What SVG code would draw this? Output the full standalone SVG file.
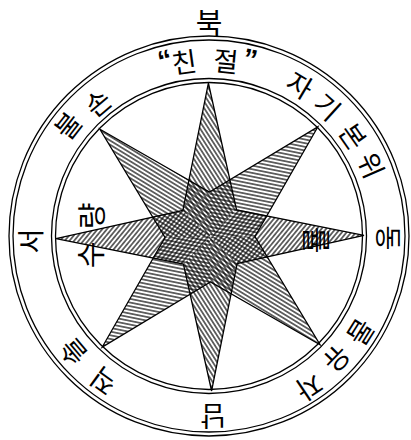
<svg xmlns="http://www.w3.org/2000/svg" width="411" height="440" viewBox="0 0 411 440">
<style>
.ring{fill:none;stroke:#000;stroke-width:1.3}
.edge{fill:none;stroke:#000;stroke-width:1.3;stroke-linejoin:miter}
.t{font-family:"Noto Sans CJK KR","Noto Sans",sans-serif;font-size:27px;fill:#000;text-anchor:middle;dominant-baseline:central}
.big{font-size:29px}
.q{font-family:"Liberation Sans",sans-serif;font-weight:bold;font-size:28px}
</style>
<defs>
<pattern id="hNS" patternUnits="userSpaceOnUse" width="8" height="3.6" patternTransform="rotate(58)"><line x1="0" y1="1.8" x2="8" y2="1.8" stroke="#000" stroke-width="1.15"/></pattern>
<pattern id="hEW" patternUnits="userSpaceOnUse" width="8" height="3.6" patternTransform="rotate(-50)"><line x1="0" y1="1.8" x2="8" y2="1.8" stroke="#000" stroke-width="1.15"/></pattern>
<pattern id="hNW" patternUnits="userSpaceOnUse" width="8" height="3.6" patternTransform="rotate(32)"><line x1="0" y1="1.8" x2="8" y2="1.8" stroke="#000" stroke-width="1.15"/></pattern>
<pattern id="hNE" patternUnits="userSpaceOnUse" width="8" height="3.6" patternTransform="rotate(12)"><line x1="0" y1="1.8" x2="8" y2="1.8" stroke="#000" stroke-width="1.15"/></pattern>
</defs>
<rect width="411" height="440" fill="#fff"/>
<g id="rings">
<circle class="ring" cx="209" cy="236" r="200"/>
<circle class="ring" cx="209" cy="236" r="196"/>
<circle class="ring" cx="209" cy="236" r="157.5"/>
<circle class="ring" cx="209" cy="236" r="153.5"/>
</g>
<g id="star" transform="rotate(-0.6 210 237)">
<path d="M210,83 L236.87,210.13 L210,237 L183.13,210.13 Z" fill="url(#hNS)"/>
<path d="M210,391 L183.13,263.87 L210,237 L236.87,263.87 Z" fill="url(#hNS)"/>
<path d="M364,237 L236.87,263.87 L210,237 L236.87,210.13 Z" fill="url(#hEW)"/>
<path d="M56,237 L183.13,210.13 L210,237 L183.13,263.87 Z" fill="url(#hEW)"/>
<path d="M318.9,128.1 L255,237 L210,237 L210,192 Z" fill="url(#hNE)"/>
<path d="M101.1,345.9 L165,237 L210,237 L210,282 Z" fill="url(#hNE)"/>
<path d="M318.9,345.9 L210,282 L210,237 L255,237 Z" fill="url(#hNW)"/>
<path d="M101.1,128.1 L210,192 L210,237 L165,237 Z" fill="url(#hNW)"/>
<path class="edge" d="M210,83 L236.87,210.13 L364,237 L236.87,263.87 L210,391 L183.13,263.87 L56,237 L183.13,210.13 Z"/>
<path class="edge" d="M318.9,128.1 L255,237 L318.9,345.9 L210,282 L101.1,345.9 L165,237 L101.1,128.1 L210,192 Z"/>
</g>
<g id="north"><text class="t big" transform="translate(209,21)">북</text></g>
<g id="east"><text class="t" transform="translate(389,238) rotate(90)">동</text></g>
<g id="south"><text class="t" transform="translate(213,417) rotate(180)">남</text></g>
<g id="west"><text class="t" transform="translate(29,241) rotate(-90)">서</text></g>
<g id="label-kind">
<text class="t q" transform="translate(165,60) rotate(-13.8)">“</text>
<text class="t" transform="translate(184,61) rotate(-8)">친</text>
<text class="t" transform="translate(226,60) rotate(5.5)">절</text>
<text class="t q" transform="translate(250,59) rotate(12.8)">”</text>
</g>
<g id="label-self">
<text class="t" transform="translate(300.4,84.4) rotate(31)">자</text>
<text class="t" transform="translate(328,106) rotate(42)">기</text>
<text class="t" transform="translate(354,135.5) rotate(55)">본</text>
<text class="t" transform="translate(372,165) rotate(66)">위</text>
</g>
<g id="label-free">
<text class="t" transform="translate(362,333) rotate(122)">롭</text>
<text class="t" transform="translate(338,360) rotate(134)">유</text>
<text class="t" transform="translate(310,388) rotate(146)">자</text>
</g>
<g id="label-honest">
<text class="t" transform="translate(103,382) rotate(216)">직</text>
<text class="t" transform="translate(72,353) rotate(229.5)">솔</text>
</g>
<g id="label-rude">
<text class="t" transform="translate(67,125) rotate(-52)">불</text>
<text class="t" transform="translate(97,102) rotate(-40)">손</text>
</g>
<g id="label-quantity">
<text class="t big" transform="translate(90,216) rotate(-90)">량</text>
<text class="t big" transform="translate(89,255) rotate(-90)">수</text>
</g>
<g id="label-east-inner">
<text class="t big" transform="translate(318,240) rotate(90)">률</text>
</g>
</svg>
